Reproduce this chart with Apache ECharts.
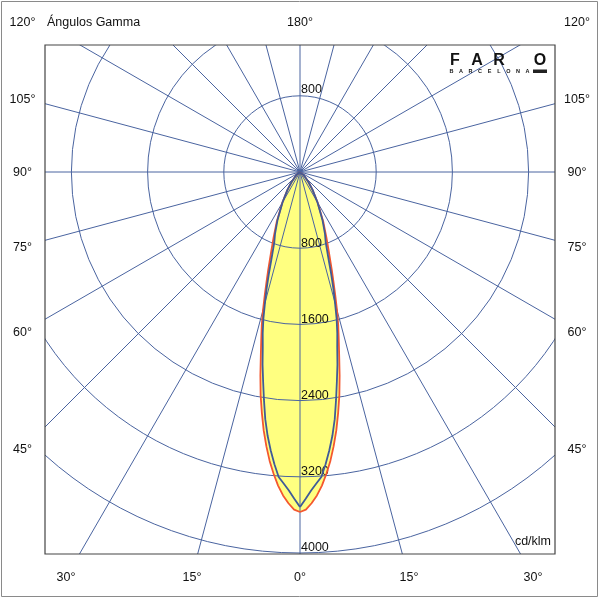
<!DOCTYPE html>
<html>
<head>
<meta charset="utf-8">
<script src="https://cdn.jsdelivr.net/npm/echarts@6/dist/echarts.min.js"></script>
<style>
html,body{margin:0;padding:0;background:#fff;}
#chart{width:600px;height:600px;}
</style>
</head>
<body>
<div id="chart"></div>
<script>
// gamma angles (deg) and luminous intensity (cd/klm) of the two planes
var gammaAngles = [0,1,2,3,4,5,6,7,8,9,10,11,12,13,14,15,16,17,18,20,22,25,30,35,40,45,50,60,70,90];
var planeRed  = [3570,3545,3480,3400,3300,3180,3050,2900,2740,2560,2380,2180,1980,1810,1660,1500,1340,1200,1080,880,740,580,370,230,140,80,40,10,0,0];
var planeBlue = [3517,3430,3345,3275,3210,3080,2940,2790,2620,2420,2230,2060,1880,1740,1590,1420,1270,1120,980,790,700,560,365,230,140,80,40,10,0,0];
var ringMax = 4000;
var ringStep = 800;
var sideLabels = ['120°','105°','90°','75°','60°','45°'];
var bottomLabels = ['30°','15°','0°','15°','30°'];

var FONT = '"Liberation Sans", Arial, sans-serif';
var gridColor = '#4a64a0';
var cx = 300, cy = 172, R = 381;

// closed curve: left half 0..180, right half mirrored
function closedCurve(vals){
	var pts = [];
	for (var i = 0; i < gammaAngles.length; i++) pts.push([vals[i], gammaAngles[i]]);
	pts.push([0, 180]);
	for (var j = gammaAngles.length - 1; j >= 0; j--) pts.push([vals[j], 360 - gammaAngles[j]]);
	return pts;
}

function txt(s, x, y, align, size, weight){
	return {
		type: 'text', x: x, y: y, z: 120, silent: true,
		style: {
			text: s, fill: '#111',
			font: (weight || 'normal') + ' ' + (size || 12.5) + 'px ' + FONT,
			align: align || 'center', textAlign: align || 'center',
			verticalAlign: 'middle', textVerticalAlign: 'middle'
		}
	};
}

var graphics = [];
// white masks outside the plot frame
graphics.push({type:'rect', z:100, silent:true, shape:{x:0,y:0,width:600,height:45}, style:{fill:'#fff'}});
graphics.push({type:'rect', z:100, silent:true, shape:{x:0,y:554,width:600,height:46}, style:{fill:'#fff'}});
graphics.push({type:'rect', z:100, silent:true, shape:{x:0,y:45,width:45,height:509}, style:{fill:'#fff'}});
graphics.push({type:'rect', z:100, silent:true, shape:{x:555,y:45,width:45,height:509}, style:{fill:'#fff'}});
// frame + outer border
graphics.push({type:'rect', z:110, silent:true, shape:{x:45,y:45,width:510,height:509}, style:{fill:null, stroke:'#444', lineWidth:1.2}});
graphics.push({type:'rect', z:110, silent:true, shape:{x:1.5,y:1.5,width:596,height:595}, style:{fill:null, stroke:'#8a8a8a', lineWidth:1}});

var sideY = [23, 100, 173, 247.5, 333, 450];
for (var i = 0; i < sideLabels.length; i++){
	graphics.push(txt(sideLabels[i], 22.5, sideY[i], 'center'));
	graphics.push(txt(sideLabels[i], 577, sideY[i], 'center'));
}
var bottomX = [66, 192, 300, 409, 533];
for (var k = 0; k < bottomLabels.length; k++){
	graphics.push(txt(bottomLabels[k], bottomX[k], 578, 'center'));
}
graphics.push(txt('180°', 300, 23, 'center'));
graphics.push(txt('Ángulos Gamma', 47, 23, 'left'));
graphics.push(txt('cd/klm', 551, 542, 'right'));
graphics.push(txt(String(ringStep), 301, 90, 'left'));

// logo
var logoX = [455, 477, 499, 540];
var logoL = ['F','A','R','O'];
for (var m = 0; m < logoL.length; m++){
	graphics.push(txt(logoL[m], logoX[m], 61, 'center', 16, 'bold'));
}
graphics.push({type:'rect', z:120, silent:true, shape:{x:533,y:69.5,width:14,height:3.5}, style:{fill:'#222'}});
var brand = 'BARCELONA';
for (var b = 0; b < brand.length; b++){
	graphics.push(txt(brand.charAt(b), 451.5 + b * 9.5, 71.5, 'center', 5.5, 'bold'));
}

var chart = echarts.init(document.getElementById('chart'));
chart.setOption({
	animation: false,
	backgroundColor: '#fff',
	polar: [
		{center: [cx, cy], radius: R},
		{center: [cx, cy], radius: 480}
	],
	angleAxis: [
		{polarIndex: 0, type: 'value', min: 0, max: 360, startAngle: 270, clockwise: true, show: false},
		{polarIndex: 1, type: 'value', min: 0, max: 360, interval: 15, startAngle: 270, clockwise: true, z: 1,
			axisLine: {show: false}, axisTick: {show: false}, axisLabel: {show: false},
			splitLine: {show: true, lineStyle: {color: gridColor, width: 1}}}
	],
	radiusAxis: [
		{polarIndex: 0, type: 'value', min: 0, max: ringMax, interval: ringStep, z: 1,
			axisLine: {show: false}, axisTick: {show: false},
			splitLine: {show: true, lineStyle: {color: gridColor, width: 1}},
			axisLabel: {show: true, margin: 1, align: 'left', verticalAlign: 'bottom', lineHeight: 10,
				showMinLabel: false, color: '#111', fontSize: 12.5, fontFamily: FONT,
				formatter: function(v){ return String(v); }}},
		{polarIndex: 1, type: 'value', min: 0, max: 1, show: false}
	],
	series: [
		{type: 'line', coordinateSystem: 'polar', polarIndex: 0, z: 0, symbol: 'none', silent: true,
			data: closedCurve(planeRed), lineStyle: {opacity: 0}, areaStyle: {color: '#ffff80', opacity: 1}},
		{type: 'line', coordinateSystem: 'polar', polarIndex: 0, z: 0, symbol: 'none', silent: true,
			data: closedCurve(planeBlue), lineStyle: {opacity: 0}, areaStyle: {color: '#ffff80', opacity: 1}},
		{type: 'line', coordinateSystem: 'polar', polarIndex: 0, z: 3, symbol: 'none', silent: true,
			data: closedCurve(planeRed), lineStyle: {color: '#f4572f', width: 1.8}},
		{type: 'line', coordinateSystem: 'polar', polarIndex: 0, z: 4, symbol: 'none', silent: true,
			data: closedCurve(planeBlue), lineStyle: {color: '#3f5b98', width: 1.8}}
	],
	graphic: {elements: graphics}
});
</script>
</body>
</html>
